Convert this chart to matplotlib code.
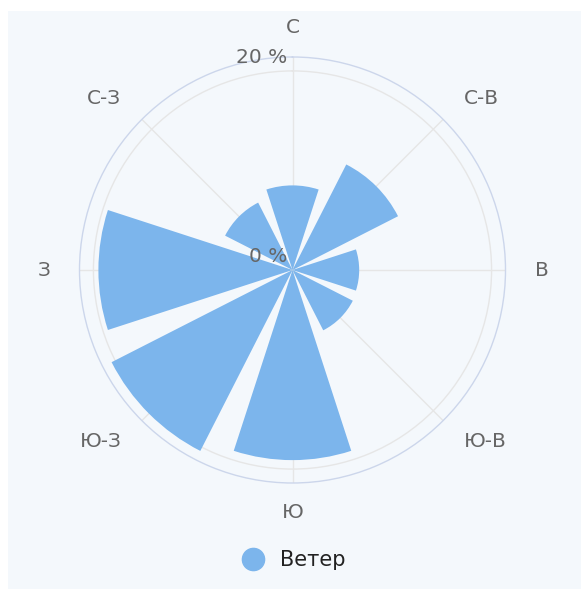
import numpy as np
import matplotlib.pyplot as plt
from matplotlib.lines import Line2D
from matplotlib.patches import Rectangle

# данные розы ветров, % повторяемости по направлениям
napravleniya = ["С", "С-В", "В", "Ю-В", "Ю", "Ю-З", "З", "С-З"]
chastota = [8.5, 11.9, 6.7, 6.8, 19.1, 20.4, 19.5, 7.6]
r_ticks = [0, 20]
r_tick_labels = ["0 %", "20 %"]
seriya = "Ветер"

bar_color = "#7cb5ec"
bg_color = "#f4f8fc"
txt_color = "#666666"

W, H = 581, 589
fig = plt.figure(figsize=(W / 100, H / 100), dpi=100, facecolor="white")
# светлый фон графика (слева и сверху белая полоска)
fig.patches.append(Rectangle((8 / W, 0), 1 - 8 / W, 1 - 11 / H, transform=fig.transFigure,
                             facecolor=bg_color, edgecolor="none", zorder=-10))

cx, cy, R = 292.5, 270, 213  # центр и радиус в пикселях
ax = fig.add_axes([(cx - R) / W, (H - cy - R) / H, 2 * R / W, 2 * R / H], projection="polar")
ax.set_facecolor("none")
ax.set_theta_zero_location("N")
ax.set_theta_direction(-1)

theta = np.deg2rad(np.arange(len(napravleniya)) * 45)
ax.bar(theta, chastota, width=np.deg2rad(36), color=bar_color, linewidth=0, zorder=3, label=seriya)

r_max = 21.4
ax.set_ylim(0, r_max)
ax.set_yticks([20])
ax.set_yticklabels([])
ax.set_xticks(theta)
ax.set_xticklabels([])
ax.tick_params(length=0)
ax.grid(True, color="#e6e6e6", linewidth=1)
ax.set_axisbelow(True)
ax.spines["polar"].set_color("#ccd6eb")
ax.spines["polar"].set_linewidth(1)

# подписи направлений: отступ от окружности, выравнивание по стороне
d = 21  # pt
for t, lab in zip(theta, napravleniya):
    s, c = np.sin(t), np.cos(t)
    ha = "left" if s > 0.1 else ("right" if s < -0.1 else "center")
    ax.annotate(lab, xy=(t, r_max), xytext=(s * d, c * d), textcoords="offset points",
                ha=ha, va="center", fontsize=14.5, color=txt_color, annotation_clip=False)

# подписи радиальной оси
for r, lab in zip(r_ticks, r_tick_labels):
    ax.annotate(lab, xy=(0, r), xytext=(-4, 9.5), textcoords="offset points",
                ha="right", va="center", fontsize=14.5, color=txt_color, zorder=5)

h = Line2D([], [], marker="o", linestyle="none", markersize=16, color=bar_color)
fig.legend([h], [seriya], loc="center", bbox_to_anchor=(0.505, 0.049), frameon=False,
           fontsize=15, handlelength=1.2, handletextpad=0.7, labelcolor="#222222")

fig.savefig("out.png", dpi=100)
